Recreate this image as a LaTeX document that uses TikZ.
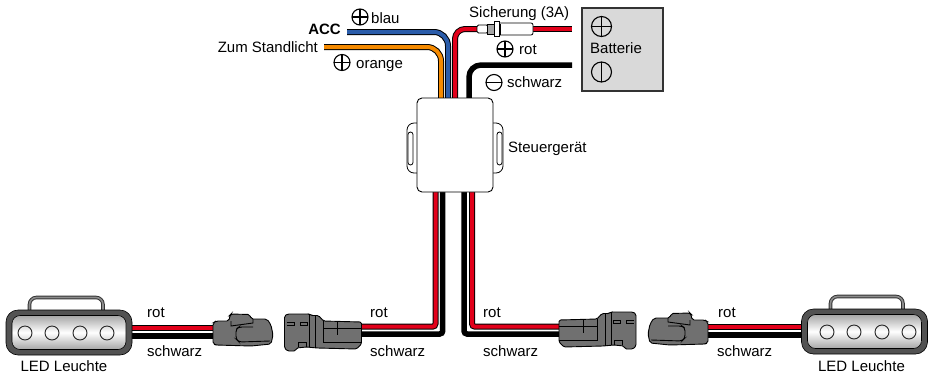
\documentclass[tikz,border=0pt]{standalone}
\usepackage{fontspec}
\setmainfont{Liberation Sans}
\usepackage{tikz}
\usetikzlibrary{positioning}
\definecolor{wireblue}{HTML}{2A5CAA}
\definecolor{wireorange}{HTML}{F58A00}
\definecolor{wirered}{HTML}{E2001A}
\definecolor{plugfill}{HTML}{707070}
\definecolor{battfill}{HTML}{D9D9D9}

\begin{document}
\begin{tikzpicture}[
    x=1pt, y=-1pt,
    every node/.style={font=\fontsize{15}{17}\selectfont, inner sep=0pt},
    wire/.style={draw=black, line width=1pt, double=#1, double distance=4pt, rounded corners=3pt},
    blackwire/.style={draw=black, line width=5.5pt, rounded corners=3pt},
    label/.style={anchor=base west},
    pol/.style={circle, draw, line width=1.1pt, minimum size=16pt},
    polplus/.style={pol, path picture={\draw[line width=1.1pt] (path picture bounding box.north) -- (path picture bounding box.south); \draw[line width=1.1pt] (path picture bounding box.west) -- (path picture bounding box.east);}},
    polminus/.style={pol, path picture={\draw[line width=1.1pt] (path picture bounding box.west) -- (path picture bounding box.east);}},
    polbar/.style={pol, path picture={\draw[line width=1.1pt] (path picture bounding box.north) -- (path picture bounding box.south);}},
    ear/.style={rectangle, draw, fill=white, line width=0.8pt, rounded corners=7pt, minimum width=#1, minimum height=50pt},
    slot/.style={rectangle, draw, fill=white, line width=0.8pt, rounded corners=2.5pt, minimum width=5pt, minimum height=33pt},
    lampouter/.style={rectangle, draw=black, fill=black!68, line width=0.6pt, rounded corners=12pt, minimum width=126pt, minimum height=45pt},
    lampinner/.style={rectangle, draw=black, line width=0.6pt, rounded corners=8pt, top color=black!35, bottom color=black!35, middle color=white, minimum width=114pt, minimum height=34pt},
    led/.style={circle, draw=black!85, line width=0.9pt, minimum size=14pt},
    grip/.style={draw=black!80, line width=1pt, double=black!45, double distance=1.6pt, rounded corners=7pt},
    plugline/.style={draw=black, line width=0.9pt},
    malecon/.pic={
        \draw[plugline, fill=plugfill, rounded corners=1.5pt] (0,2) -- (3,0) -- (25,0) -- (27,1.5) -- (34,1.5) -- (39,7) -- (77,8) -- (77,30) -- (72,35) -- (33,34) -- (22,33) -- (12,34) -- (11,37) -- (3,37) -- (0,34) -- cycle;
        \draw[plugline] (25,0) -- (25,33);
        \draw[plugline] (31,2) -- (31,34);
        \draw[plugline] (39,7) -- (39,28) -- (77,28);
        \draw[plugline] (39,14) -- (77,14);
        \draw[plugline] (53,8) -- (53,21);
        \draw[plugline] (2,8) -- (10,8) -- (10,11) -- (2,11);
        \draw[plugline] (16,8) -- (23,8) -- (23,11) -- (16,11) -- cycle;
        \draw[plugline] (14,33) -- (14,28) -- (22,28) -- (22,33);
    },
    femalecon/.pic={
        \draw[plugline, fill=plugfill, rounded corners=2pt] (0,9) -- (3,7) -- (16,7) -- (17,1) -- (18,0) -- (37,0.5) -- (38,5) -- (54,5) -- (58,11) -- (60,21) -- (58,30) -- (38,32) -- (3,31) -- (0,30) -- cycle;
        \draw[plugline] (18,7) -- (18,12) -- (40,9) -- (40,5);
        \draw[plugline, rounded corners=3pt] (40,13) -- (26,13) -- (23,15) -- (23,25) -- (26,28) -- (57,27);
    }
]
    \useasboundingbox (0,0) rectangle (930,376);

    % Wire ends
    \coordinate (accend) at (347,32);
    \coordinate (lichtend) at (324,47);
    \coordinate (fusein) at (480,29);
    \coordinate (fuseout) at (530,29);
    \coordinate (battred) at (572,29);
    \coordinate (battblack) at (572,65);
    \coordinate (boxorange) at (441,100);
    \coordinate (boxblue) at (448,100);
    \coordinate (boxred) at (455,100);
    \coordinate (boxblack) at (469,100);
    \coordinate (outredl) at (435.5,190);
    \coordinate (outblackl) at (442.7,190);
    \coordinate (outblackr) at (464,190);
    \coordinate (outredr) at (472,190);
    \coordinate (plugredl) at (355,326.7);
    \coordinate (plugblackl) at (355,334);
    \coordinate (plugredr) at (565,326.7);
    \coordinate (plugblackr) at (565,334);
    \coordinate (ledredl) at (128,328);
    \coordinate (ledblackl) at (128,336);
    \coordinate (sockredl) at (220,328);
    \coordinate (sockblackl) at (220,336);
    \coordinate (ledredr) at (806,327);
    \coordinate (ledblackr) at (806,335);
    \coordinate (sockredr) at (700,327);
    \coordinate (sockblackr) at (700,335);

    % Upper wires
    \draw[wire=wireblue, rounded corners=14pt] (accend) -| (boxblue);
    \draw[wire=wireorange, rounded corners=14pt] (lichtend) -| (boxorange);
    \draw[wire=wirered, rounded corners=10pt] (fusein) -| (boxred);
    \draw[wire=wirered] (fuseout) -- (battred);
    \draw[blackwire, rounded corners=12pt] (battblack) -| (boxblack);

    % Lower wires
    \draw[wire=wirered] (outredl) |- (plugredl);
    \draw[blackwire] (outblackl) |- (plugblackl);
    \draw[blackwire] (outblackr) |- (plugblackr);
    \draw[wire=wirered] (outredr) |- (plugredr);
    \draw[wire=wirered] (ledredl) -- (sockredl);
    \draw[blackwire] (ledblackl) -- (sockblackl);
    \draw[wire=wirered] (ledredr) -- (sockredr);
    \draw[blackwire] (ledblackr) -- (sockblackr);

    % Fuse
    \draw[line width=0.8pt, fill=white, rounded corners=1.5pt] (477,25) rectangle (488,33);
    \draw[line width=0.8pt, fill=white, rounded corners=2pt] (497,23) rectangle (533,35);
    \draw[line width=0.8pt, fill=black!35] (487,24) rectangle (500,34);
    \draw[line width=0.8pt, fill=white] (494,21) rectangle (499,36);

    % Control unit
    \node[ear=22pt] (earl) at (418,148) {};
    \node[ear=22pt] (earr) at (492,148) {};
    \node[slot] (slotl) at (410.5,148.5) {};
    \node[slot] (slotr) at (499.5,148.5) {};
    \node[rectangle, draw, fill=white, line width=0.9pt, rounded corners=5pt, minimum width=76pt, minimum height=94pt] (box) at (455,145) {};
    \node[label] (boxtext) at (508,152) {Steuerger\"at};

    % Battery
    \node[rectangle, draw=black!80, fill=battfill, line width=1.2pt, minimum width=81pt, minimum height=83pt] (batt) at (622.5,49.5) {};
    \node[polplus, minimum size=20pt] (battplus) at (601.5,26.5) {};
    \node[polbar, minimum size=20pt] (battbar) at (601.5,72) {};
    \node[anchor=base] (batttext) at (616,53.5) {Batterie};

    % Upper labels
    \node[anchor=base east, font=\fontsize{15}{17}\selectfont\bfseries] (acctext) at (341,34) {ACC};
    \node[polplus] (blauplus) at (360,17) {};
    \node[label] (blautext) at (371,23) {blau};
    \node[anchor=base east] (lichttext) at (318,52) {Zum Standlicht};
    \node[polplus] (orangeplus) at (342,62.5) {};
    \node[label] (orangetext) at (356,68) {orange};
    \node[label] (fusetext) at (469,17.5) {Sicherung (3A)};
    \node[polplus] (rotplus) at (505,49) {};
    \node[label] (rottext) at (519,54) {rot};
    \node[polminus] (schwarzminus) at (494,82.5) {};
    \node[label] (schwarztext) at (507,87) {schwarz};

    % Left lamp
    \draw[grip] (29.5,312) |- (103,297.5) -- (103,312);
    \node[lampouter] (lampl) at (69,332.5) {};
    \node[lampinner] (lampli) at (69,332.5) {};
    \node[led] (ledla) at (25,333) {};
    \node[led] (ledlb) at (52,333) {};
    \node[led] (ledlc) at (80,333) {};
    \node[led] (ledld) at (107,333) {};
    \node[anchor=base] (lampltext) at (64,371) {LED Leuchte};

    % Right lamp
    \draw[grip] (830.5,311) |- (903,296.5) -- (903,311);
    \node[lampouter] (lampr) at (864.5,331.5) {};
    \node[lampinner] (lampri) at (864.5,331.5) {};
    \node[led] (ledra) at (827,332) {};
    \node[led] (ledrb) at (854,332) {};
    \node[led] (ledrc) at (882,332) {};
    \node[led] (ledrd) at (909,332) {};
    \node[anchor=base] (lamprtext) at (861.5,371) {LED Leuchte};

    % Plugs
    \pic at (213,314) {femalecon};
    \pic at (284.5,314) {malecon};
    \pic[xscale=-1] at (636,312) {malecon};
    \pic[xscale=-1] at (708,313) {femalecon};

    % Lower labels
    \node[label] (rota) at (147,317) {rot};
    \node[label] (schwarza) at (147,356) {schwarz};
    \node[label] (rotb) at (370,317) {rot};
    \node[label] (schwarzb) at (370,356) {schwarz};
    \node[label] (rotc) at (483,317) {rot};
    \node[label] (schwarzc) at (483,356) {schwarz};
    \node[label] (rotd) at (718,317) {rot};
    \node[label] (schwarzd) at (717,356) {schwarz};
\end{tikzpicture}
\end{document}
